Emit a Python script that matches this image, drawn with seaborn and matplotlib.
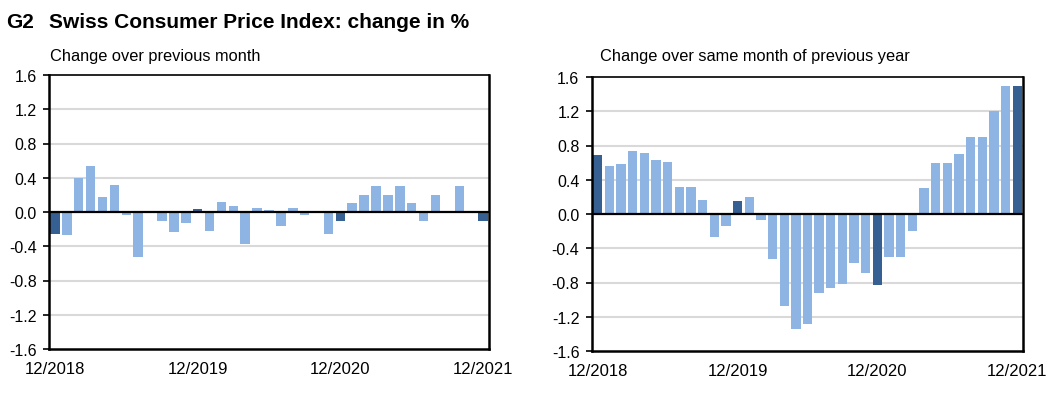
import matplotlib
matplotlib.use("Agg")
import matplotlib.pyplot as plt
import seaborn as sns
import pandas as pd
import numpy as np

# ---- data ----
months = [f"{m:02d}/{y}" for y, m in
          [(2018, 12)] + [(y, m) for y in (2019, 2020, 2021) for m in range(1, 13)]]

mom_change = [-0.26, -0.27, 0.40, 0.54, 0.18, 0.31, -0.03, -0.52, 0.00, -0.10,
              -0.23, -0.13, 0.03, -0.22, 0.12, 0.07, -0.37, 0.05, 0.02, -0.16,
              0.05, -0.04, 0.00, -0.26, -0.10, 0.10, 0.20, 0.30, 0.20, 0.30,
              0.10, -0.10, 0.20, 0.00, 0.30, 0.00, -0.10]

yoy_change = [0.69, 0.56, 0.58, 0.73, 0.71, 0.63, 0.61, 0.32, 0.32, 0.16,
              -0.27, -0.14, 0.15, 0.20, -0.07, -0.53, -1.07, -1.34, -1.29, -0.92,
              -0.87, -0.82, -0.57, -0.69, -0.83, -0.50, -0.50, -0.20, 0.30, 0.60,
              0.60, 0.70, 0.90, 0.90, 1.20, 1.50, 1.50]

tick_labels = ["12/2018", "12/2019", "12/2020", "12/2021"]
yticks = [-1.6, -1.2, -0.8, -0.4, 0.0, 0.4, 0.8, 1.2, 1.6]

title_num = "G2"
title_txt = "Swiss Consumer Price Index: change in %"
sub_left = "Change over previous month"
sub_right = "Change over same month of previous year"

LIGHT = "#8db4e2"
DARK = "#376092"

sns.set_theme(style="white")
plt.rcParams["font.family"] = ["Liberation Sans", "DejaVu Sans"]
plt.rcParams["text.color"] = "black"

fig = plt.figure(figsize=(10.61, 4.10), dpi=100)
ax1 = fig.add_axes([49 / 1061, 1 - 350 / 410, 440 / 1061, 274 / 410])
ax2 = fig.add_axes([592 / 1061, 1 - 352 / 410, 431 / 1061, 274 / 410])


def draw(ax, values):
    df = pd.DataFrame({
        "month": months,
        "value": values,
        "kind": ["dark" if m.startswith("12/") else "light" for m in months],
    })
    sns.barplot(data=df, x="month", y="value", hue="kind",
                palette={"dark": DARK, "light": LIGHT}, dodge=False,
                saturation=1, width=0.8, legend=False, ax=ax, zorder=2,
                linewidth=0)
    ax.set_xlim(-0.5, len(months) - 0.5)
    ax.set_ylim(-1.6, 1.6)
    ax.set_yticks(yticks)
    ax.set_yticklabels([f"{v:.1f}" for v in yticks])
    pos = [months.index(t) for t in tick_labels]
    ax.set_xticks(pos)
    ax.set_xticklabels(tick_labels)
    ax.set_xlabel("")
    ax.set_ylabel("")
    for v in yticks:
        if abs(v) not in (0.0, 1.6):
            ax.axhline(v, color="#d9d9d9", lw=1.5, zorder=1)
    ax.axhline(0, color="black", lw=1.6, zorder=3)
    for side in ("left", "bottom", "right"):
        ax.spines[side].set_color("black")
        ax.spines[side].set_linewidth(1.8)
    ax.spines["top"].set_color("black")
    ax.spines["top"].set_linewidth(1.2)
    ax.tick_params(axis="y", which="both", left=True, length=4, width=1.2,
                   color="black", pad=5, labelsize=11.5, labelcolor="black")
    ax.tick_params(axis="x", length=0, pad=9, labelsize=12, labelcolor="black")
    ax.grid(False)


draw(ax1, mom_change)
draw(ax2, yoy_change)

fig.text(6 / 1061, 1 - 28 / 410, title_num, fontsize=15, fontweight="bold",
         va="baseline", ha="left", color="black")
fig.text(49 / 1061, 1 - 28 / 410, title_txt, fontsize=15, fontweight="bold",
         va="baseline", ha="left", color="black")
fig.text(50 / 1061, 1 - 61 / 410, sub_left, fontsize=11.8, va="baseline",
         ha="left", color="black")
fig.text(600 / 1061, 1 - 61 / 410, sub_right, fontsize=11.8, va="baseline",
         ha="left", color="black")

fig.savefig("out.png", dpi=100)
